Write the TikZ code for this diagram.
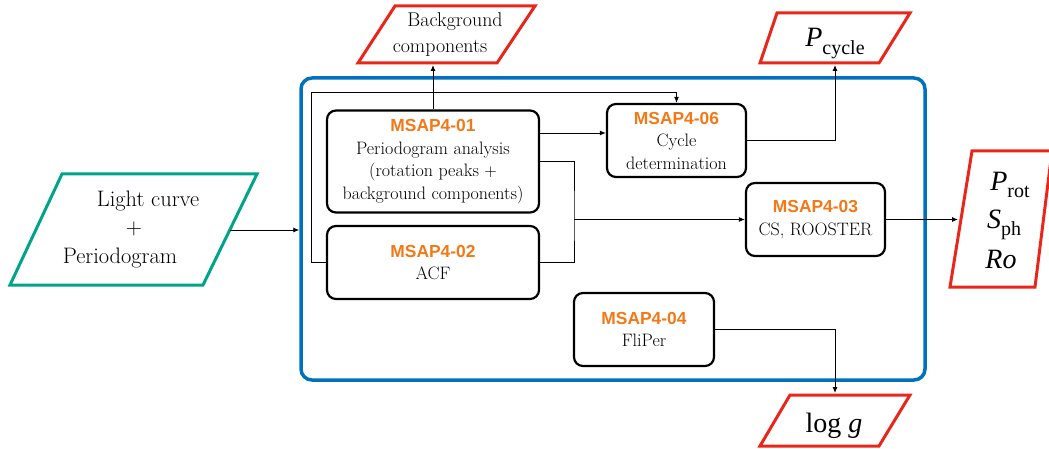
\documentclass[tikz,border=0pt]{standalone}
\usepackage{fontspec}
\newfontfamily\hv{Liberation Sans}
\newfontfamily\tms{Liberation Serif}
\usetikzlibrary{arrows.meta}
\definecolor{cblue}{RGB}{0,114,189}
\definecolor{cred}{RGB}{234,38,26}
\definecolor{cgreen}{RGB}{0,164,138}
\definecolor{corange}{RGB}{243,120,22}
\newcommand{\msaplbl}[1]{{\color{corange}\hv\bfseries\fontsize{17.4}{22.5}\selectfont MSAP4-#1}}
\newcommand{\bigT}{\tms\fontsize{28}{28}\selectfont}
\newcommand{\subT}[1]{{\tms\fontsize{20}{20}\selectfont\raisebox{-7.5pt}{#1}}}
\begin{document}
\begin{tikzpicture}[x=1pt,y=-1pt,
  box/.style={draw,line width=2.2pt,rounded corners=9pt,align=center,inner sep=0pt,
    font=\fontsize{18}{22.5}\selectfont},
  conn/.style={line width=0.9pt},
  arr/.style={conn,-{Latex[length=6pt,width=5pt]}},
  para/.style={line width=3pt,line join=miter},
  txt/.style={inner sep=0pt,anchor=base}]
\useasboundingbox (0,0) rectangle (1049,449);

% container
\node[draw=cblue,line width=3.5pt,rounded corners=11pt,minimum width=624pt,minimum height=302pt,inner sep=0pt] (cont) at (613,229) {};

% process boxes
\node[box,minimum width=212pt,minimum height=102pt] (b01) at (433,161.5)
  {\msaplbl{01}\\Periodogram analysis\\(rotation peaks $+$\\background components)};
\node[box,minimum width=212pt,minimum height=73pt] (b02) at (433,262.5)
  {\msaplbl{02}\\ACF};
\node[box,minimum width=139pt,minimum height=73pt] (b06) at (676.5,140.5)
  {\msaplbl{06}\\Cycle\\determination};
\node[box,minimum width=139pt,minimum height=73pt] (b03) at (815.5,219.5)
  {\msaplbl{03}\\CS, ROOSTER};
\node[box,minimum width=140pt,minimum height=73pt] (b04) at (644,329.5)
  {\msaplbl{04}\\FliPer};

% input parallelogram
\draw[para,draw=cgreen] (62,174) -- (257,174) -- (203,285) -- (10,285) -- cycle;
\node[txt,font=\fontsize{22.4}{24}\selectfont] (lc1) at (148,207) {Light curve};
\node[inner sep=0pt,font=\fontsize{22.4}{24}\selectfont] (lc2) at (134,229) {+};
\node[txt,font=\fontsize{22.4}{24}\selectfont] (lc3) at (120,263) {Periodogram};
\coordinate (lcout) at (230,230);

% output parallelograms
\draw[para,draw=cred] (395,6) -- (535,6) -- (497,63) -- (358,63) -- cycle;
\node[txt,font=\fontsize{19.9}{24}\selectfont] (bg1) at (455,27) {Background};
\node[txt,font=\fontsize{19.9}{24}\selectfont] (bg2) at (440,53) {components};
\coordinate (bgin) at (433,65);

\draw[para,draw=cred] (777,13) -- (910,13) -- (879,63) -- (760,63) -- cycle;
\node[txt] (pcyc) at (835,47) {{\bigT\itshape P}\subT{cycle}};
\coordinate (pcin) at (835,65);

\draw[para,draw=cred] (972,151) -- (1052,151) -- (1035,287) -- (950,287) -- cycle;
\node[txt] (prot) at (1010,190) {{\bigT\itshape P}\subT{rot}};
\node[txt] (sph) at (1004,228) {{\bigT\itshape S}\subT{ph}};
\node[txt] (ro) at (1001,268) {{\bigT\itshape Ro}};
\coordinate (prin) at (958,219.5);

\draw[para,draw=cred] (790,395) -- (910,395) -- (879,446) -- (760,446) -- cycle;
\node[txt] (logg) at (834,432) {{\bigT log \itshape g}};
\coordinate (lgin) at (835,393);

% connectors
\draw[arr] (lcout) -- (lcout -| cont.west);
\draw[arr] (b01.north) -- (bgin);
\coordinate (loopc) at (311,92);
\draw[arr] (b02.west) -| (loopc) -| (b06.north);
\draw[arr] ([yshift=28.5pt]b01.east) -- ([yshift=28.5pt]b01.east -| b06.west);
\coordinate (merge) at (574,219.5);
\draw[conn] (b01.east) -| (merge) |- (b02.east);
\draw[arr] (merge) -- (b03.west);
\draw[arr] (b06.east) -| (pcin);
\draw[arr] (b03.east) -- (prin);
\draw[arr] (b04.east) -| (lgin);
\end{tikzpicture}
\end{document}
